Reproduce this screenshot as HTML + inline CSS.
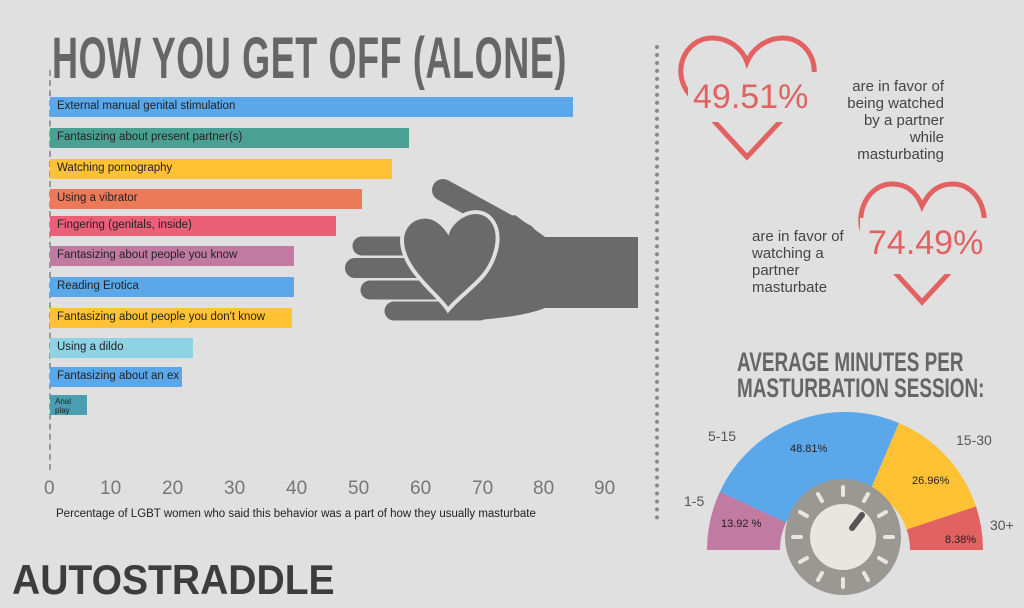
<!DOCTYPE html>
<html><head><meta charset="utf-8"><style>
html,body{margin:0;padding:0;}
body{width:1024px;height:608px;background:#e0e0e0;position:relative;overflow:hidden;font-family:"Liberation Sans",sans-serif;}
.t{position:absolute;white-space:nowrap;}
.bar{position:absolute;left:50px;height:20px;}
.bar span{position:absolute;left:7px;top:3px;font-size:11.5px;color:#222;}
</style></head><body>
<div class="t" style="left:52px;top:24px;font-size:58px;font-weight:bold;color:#666;transform:scaleX(0.62);transform-origin:left top;letter-spacing:1px;line-height:70px;">HOW YOU GET OFF (ALONE)</div>
<div style="position:absolute;left:49px;top:70px;height:400px;border-left:2px dashed #999;"></div>
<div class="bar" style="top:97px;width:523px;background:#5aa8ea"><span>External manual genital stimulation</span></div>
<div class="bar" style="top:128px;width:359px;background:#4aa193"><span>Fantasizing about present partner(s)</span></div>
<div class="bar" style="top:159px;width:342px;background:#ffc234"><span>Watching pornography</span></div>
<div class="bar" style="top:189px;width:312px;background:#ec7a59"><span>Using a vibrator</span></div>
<div class="bar" style="top:216px;width:286px;background:#ec5f78"><span>Fingering (genitals, inside)</span></div>
<div class="bar" style="top:246px;width:244px;background:#c17aa2"><span>Fantasizing about people you know</span></div>
<div class="bar" style="top:277px;width:244px;background:#5aa8ea"><span>Reading Erotica</span></div>
<div class="bar" style="top:308px;width:242px;background:#ffc234"><span>Fantasizing about people you don't know</span></div>
<div class="bar" style="top:338px;width:143px;background:#8dd3e3"><span>Using a dildo</span></div>
<div class="bar" style="top:367px;width:132px;background:#5aa8ea"><span>Fantasizing about an ex</span></div>
<div class="bar" style="top:395px;width:37px;background:#4a9eb0"><span style="font-size:8px;top:2px;left:5px;line-height:9px">Anal<br>play</span></div>
<div style="position:absolute;left:0;top:478px;width:640px;height:24px;font-size:19px;color:#777;">
<span class="t" style="left:44px">0</span><span class="t" style="left:100px">10</span><span class="t" style="left:162px">20</span><span class="t" style="left:224px">30</span><span class="t" style="left:286px">40</span><span class="t" style="left:348px">50</span><span class="t" style="left:410px">60</span><span class="t" style="left:472px">70</span><span class="t" style="left:533px">80</span><span class="t" style="left:594px">90</span></div>
<div class="t" style="left:56px;top:508px;font-size:11.5px;color:#222;">Percentage of LGBT women who said this behavior was a part of how they usually masturbate</div>
<div style="position:absolute;left:655px;top:45px;height:475px;border-left:4px dotted #888;"></div>
<svg style="position:absolute;left:0;top:0" width="1024" height="608">
<!-- hand -->
<g fill="#6a6a6a" stroke="#6a6a6a" stroke-linecap="round">
<path d="M465,228 L515,215 L545,237 L638,237 L638,308 L545,308 C520,318 470,322 440,320 L440,237 Z" stroke="none"/>
<line x1="443" y1="190" x2="525" y2="235" stroke-width="22"/>
<line x1="362" y1="246" x2="470" y2="246" stroke-width="19"/>
<line x1="355" y1="268" x2="470" y2="268" stroke-width="20"/>
<line x1="370" y1="290" x2="470" y2="290" stroke-width="19"/>
<line x1="394" y1="311" x2="480" y2="311" stroke-width="19"/>
</g>
<path d="M448,310 C438,294 402,270 402,240 C402,220 425,208 442,224 C444,226 446,228 448,231 C452,220 472,205 488,216 C505,230 497,260 482,277 C470,290 456,300 448,310 Z" fill="#6a6a6a" stroke="#e0e0e0" stroke-width="4"/>
<!-- hearts -->
<path d="M747,157 L690,95 C670,72 685,38 712,38 C730,38 743,50 747,62 C752,50 765,38 783,38 C810,38 825,72 805,95 Z" fill="none" stroke="#e26161" stroke-width="5"/>
<rect x="688" y="72" width="130" height="50" fill="#e0e0e0"/>
<path d="M922,302 L870,245 C850,222 865,184 892,184 C910,184 918,196 922,206 C927,196 935,184 953,184 C980,184 995,222 975,245 Z" fill="none" stroke="#e26161" stroke-width="5"/>
<rect x="860" y="218" width="130" height="56" fill="#e0e0e0"/>
<!-- gauge -->
<g transform="translate(845,550)">
<path d="M-138,0 A138,138 0 0 1 -125.1,-58.3 L-59,-27.5 A65,65 0 0 0 -65,0 Z" fill="#c17aa2"/>
<path d="M-125.1,-58.3 A138,138 0 0 1 53.9,-127 L25.4,-59.8 A65,65 0 0 0 -59,-27.5 Z" fill="#5aa8ea"/>
<path d="M53.9,-127 A138,138 0 0 1 131,-43.6 L61.7,-20.5 A65,65 0 0 0 25.4,-59.8 Z" fill="#ffc234"/>
<path d="M131,-43.6 A138,138 0 0 1 138,0 L65,0 A65,65 0 0 0 61.7,-20.5 Z" fill="#e26161"/>
</g>
<circle cx="843" cy="537" r="58" fill="#9a9893"/>
<g stroke="#e8e6df" stroke-width="4" stroke-linecap="round" transform="translate(843,537)">
<line x1="0" y1="-50" x2="0" y2="-42"/><line x1="0" y1="50" x2="0" y2="42"/><line x1="-50" y1="0" x2="-42" y2="0"/><line x1="50" y1="0" x2="42" y2="0"/>
<line x1="25" y1="-43" x2="21" y2="-36"/><line x1="-25" y1="-43" x2="-21" y2="-36"/><line x1="25" y1="43" x2="21" y2="36"/><line x1="-25" y1="43" x2="-21" y2="36"/>
<line x1="43" y1="-25" x2="36" y2="-21"/><line x1="-43" y1="-25" x2="-36" y2="-21"/><line x1="43" y1="25" x2="36" y2="21"/><line x1="-43" y1="25" x2="-36" y2="21"/>
</g>
<circle cx="843" cy="537" r="33" fill="#e8e6df"/>
<line x1="852" y1="528" x2="862" y2="515" stroke="#555" stroke-width="6" stroke-linecap="round"/>
</svg>
<div class="t" style="left:693px;top:78px;font-size:34px;color:#e26161;">49.51%</div>
<div class="t" style="left:818px;top:78px;font-size:15px;color:#444;text-align:right;line-height:17px;width:126px;">are in favor of<br>being watched<br>by a partner<br>while<br>masturbating</div>
<div class="t" style="left:752px;top:228px;font-size:15px;color:#444;line-height:17px;">are in favor of<br>watching a<br>partner<br>masturbate</div>
<div class="t" style="left:868px;top:224px;font-size:34px;color:#e26161;">74.49%</div>
<div class="t" style="left:737px;top:349px;font-size:27px;font-weight:bold;color:#666;line-height:26px;text-align:center;width:320px;transform:scaleX(0.7);transform-origin:left top;">AVERAGE MINUTES PER<br>MASTURBATION SESSION:</div>
<div class="t" style="left:708px;top:428px;font-size:14px;color:#555">5-15</div>
<div class="t" style="left:956px;top:432px;font-size:14px;color:#555">15-30</div>
<div class="t" style="left:684px;top:493px;font-size:14px;color:#555">1-5</div>
<div class="t" style="left:990px;top:517px;font-size:14px;color:#555">30+</div>
<div class="t" style="left:790px;top:443px;font-size:11px;color:#222">48.81%</div>
<div class="t" style="left:912px;top:475px;font-size:11px;color:#222">26.96%</div>
<div class="t" style="left:721px;top:518px;font-size:11px;color:#222">13.92 %</div>
<div class="t" style="left:945px;top:534px;font-size:11px;color:#222">8.38%</div>
<div class="t" style="left:12px;top:556px;font-size:42px;font-weight:bold;color:#3d3d3d;letter-spacing:0px;transform:scaleX(0.93);transform-origin:left top;">AUTOSTRADDLE</div>
</body></html>
